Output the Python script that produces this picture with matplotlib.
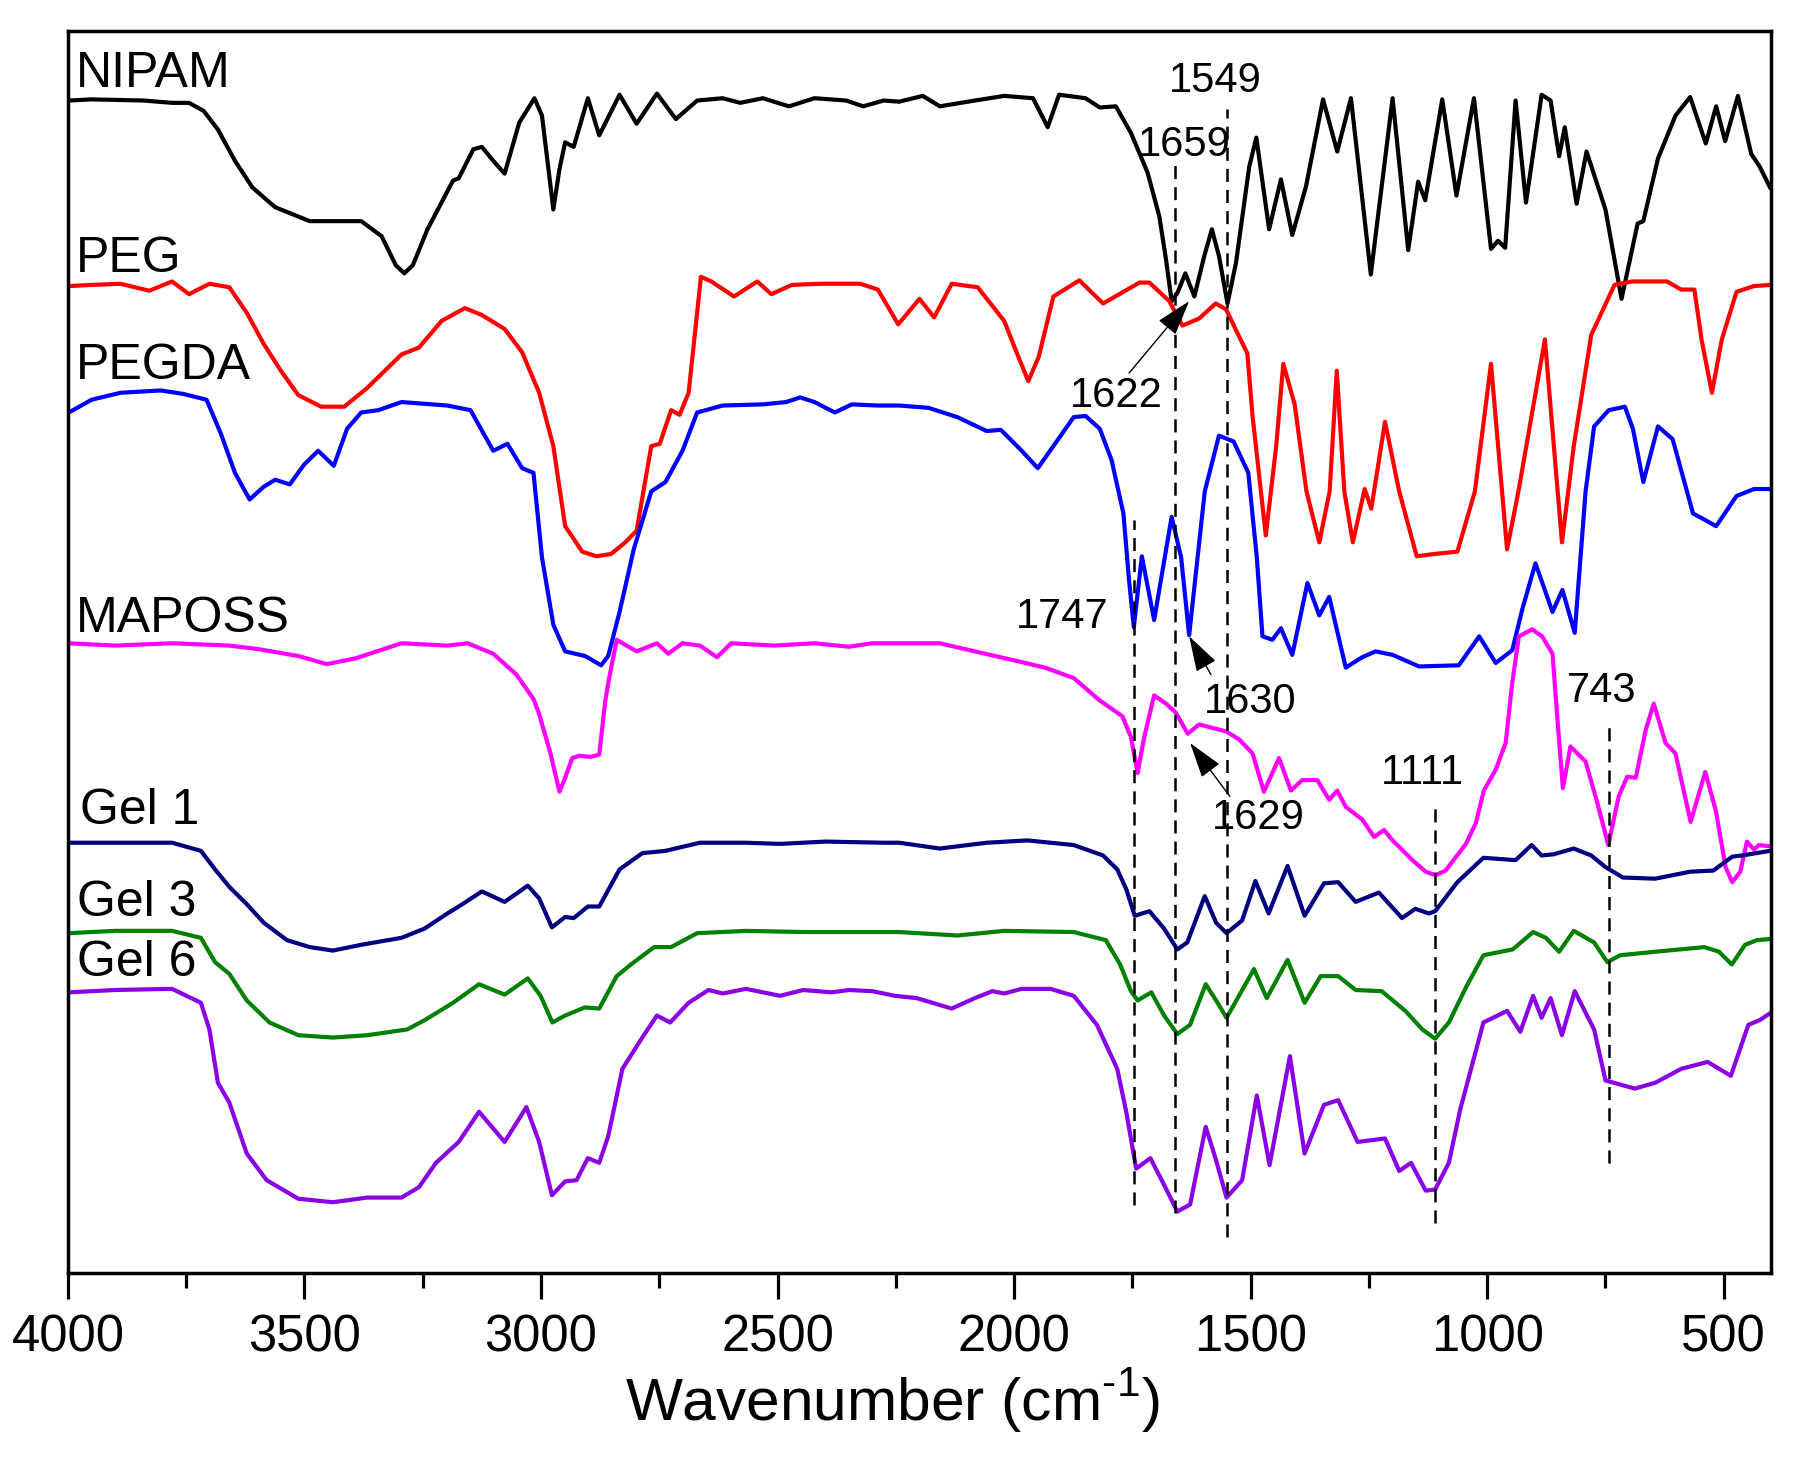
import numpy as np
import matplotlib
matplotlib.use("Agg")
import matplotlib.pyplot as plt
from matplotlib.ticker import MultipleLocator

plt.rcParams["font.family"] = ["Liberation Sans", "DejaVu Sans"]
plt.rcParams["mathtext.fontset"] = "custom"
plt.rcParams["mathtext.rm"] = "Liberation Sans"

# FTIR spectra, (wavenumber cm-1, offset transmittance a.u.)

nipam = [(3998, 1011), (3950, 1012), (3840, 1011), (3780, 1009), (3744, 1009), (3713, 1002),
         (3683, 986), (3647, 959), (3610, 936), (3562, 919), (3489, 907), (3380, 907),
         (3337, 894), (3307, 869), (3289, 862), (3271, 869), (3240, 900), (3186, 942),
         (3174, 944), (3143, 969), (3125, 971), (3101, 959), (3077, 948), (3046, 992),
         (3014, 1013), (2998, 998), (2974, 917), (2961, 952), (2949, 975), (2931, 971),
         (2901, 1013), (2877, 981), (2834, 1016), (2798, 991), (2755, 1017), (2715, 995),
         (2670, 1011), (2616, 1013), (2579, 1009), (2531, 1013), (2476, 1006), (2422, 1013),
         (2355, 1011), (2319, 1006), (2276, 1011), (2243, 1010), (2193, 1015), (2157, 1006),
         (2083, 1011), (2021, 1015), (1960, 1013), (1929, 988), (1905, 1016), (1849, 1013),
         (1819, 1005), (1785, 1006), (1753, 983), (1718, 949), (1693, 911), (1679, 874),
         (1667, 838), (1655, 845), (1638, 862), (1619, 842), (1598, 877), (1582, 900),
         (1567, 877), (1549, 836), (1531, 871), (1503, 954), (1488, 979), (1461, 900),
         (1436, 943), (1412, 895), (1383, 937), (1347, 1012), (1317, 967), (1288, 1013),
         (1246, 861), (1200, 1013), (1167, 882), (1146, 941), (1131, 925), (1095, 1012),
         (1065, 929), (1028, 1013), (992, 883), (977, 890), (962, 884), (940, 1011),
         (918, 923), (885, 1016), (866, 1011), (848, 963), (836, 988), (811, 922),
         (790, 967), (750, 917), (716, 840), (682, 905), (670, 907), (639, 961),
         (602, 998), (571, 1014), (538, 974), (516, 1006), (497, 976), (470, 1015),
         (442, 965), (424, 954), (402, 936)]

peg = [(3998, 851), (3950, 852), (3889, 853), (3828, 847), (3780, 855), (3744, 844),
       (3701, 853), (3659, 850), (3622, 828), (3586, 801), (3550, 778), (3513, 757),
       (3465, 747), (3416, 747), (3368, 763), (3295, 792), (3258, 798), (3210, 821),
       (3161, 832), (3125, 826), (3077, 814), (3040, 794), (3004, 759), (2974, 713),
       (2949, 644), (2913, 622), (2883, 618), (2852, 620), (2822, 630), (2798, 640),
       (2767, 713), (2749, 715), (2725, 744), (2707, 740), (2688, 759), (2662, 859),
       (2640, 855), (2592, 842), (2543, 855), (2513, 844), (2470, 852), (2410, 853),
       (2325, 853), (2288, 848), (2245, 818), (2200, 840), (2169, 824), (2132, 853),
       (2077, 850), (2021, 821), (1991, 790), (1970, 769), (1948, 790), (1917, 842),
       (1862, 856), (1812, 836), (1735, 854), (1714, 854), (1672, 838), (1655, 825),
       (1644, 817), (1609, 823), (1574, 836), (1552, 831), (1531, 813), (1507, 793),
       (1496, 739), (1468, 636), (1446, 713), (1431, 784), (1407, 749), (1382, 674),
       (1355, 630), (1333, 674), (1318, 778), (1302, 674), (1284, 630), (1259, 676),
       (1245, 659), (1216, 734), (1186, 674), (1149, 618), (1112, 620), (1063, 622),
       (1026, 674), (992, 784), (958, 624), (934, 674), (878, 805), (842, 630),
       (817, 713), (780, 809), (731, 852), (694, 855), (620, 855), (590, 848),
       (562, 848), (547, 805), (525, 759), (504, 805), (473, 846), (436, 851), (402, 852)]

pegda = [(3998, 742), (3950, 753), (3889, 759), (3804, 761), (3756, 758), (3707, 753),
         (3677, 724), (3647, 690), (3616, 667), (3586, 678), (3562, 684), (3531, 680),
         (3501, 697), (3471, 709), (3438, 696), (3410, 728), (3380, 742), (3344, 744),
         (3295, 751), (3198, 748), (3149, 744), (3119, 722), (3101, 709), (3071, 715),
         (3040, 694), (3016, 690), (2998, 617), (2974, 559), (2949, 536), (2907, 532),
         (2873, 524), (2858, 532), (2834, 570), (2804, 624), (2767, 674), (2737, 682),
         (2701, 709), (2670, 742), (2616, 748), (2531, 749), (2482, 751), (2452, 755),
         (2422, 751), (2379, 742), (2343, 749), (2288, 748), (2243, 748), (2181, 746),
         (2120, 738), (2058, 726), (2028, 727), (1984, 709), (1950, 694), (1917, 713),
         (1874, 738), (1849, 739), (1819, 728), (1794, 701), (1769, 655), (1757, 597),
         (1747, 557), (1730, 618), (1704, 563), (1667, 652), (1647, 617), (1630, 550),
         (1597, 674), (1567, 722), (1536, 717), (1505, 690), (1487, 617), (1475, 549),
         (1454, 546), (1436, 556), (1412, 533), (1380, 595), (1355, 567), (1334, 583),
         (1299, 522), (1264, 531), (1236, 536), (1200, 533), (1144, 523), (1060, 524),
         (1017, 549), (982, 526), (947, 537), (926, 572), (898, 612), (862, 570),
         (841, 589), (815, 552), (792, 674), (774, 730), (743, 744), (709, 747),
         (692, 728), (670, 682), (639, 730), (608, 719), (565, 655), (516, 644),
         (473, 670), (436, 676), (402, 676)]

maposs = [(3998, 543), (3901, 541), (3780, 543), (3659, 541), (3598, 538), (3513, 532),
          (3453, 525), (3392, 530), (3295, 543), (3198, 541), (3155, 543), (3101, 534),
          (3052, 516), (3016, 495), (3004, 482), (2980, 448), (2961, 415), (2949, 427),
          (2934, 444), (2919, 446), (2895, 445), (2877, 447), (2864, 494), (2856, 513),
          (2840, 546), (2798, 536), (2755, 543), (2731, 534), (2701, 543), (2664, 541),
          (2628, 531), (2598, 543), (2507, 541), (2422, 543), (2349, 540), (2300, 543),
          (2243, 543), (2157, 543), (2083, 536), (1997, 528), (1935, 522), (1874, 513),
          (1820, 494), (1771, 480), (1753, 462), (1739, 431), (1725, 462), (1704, 498),
          (1679, 491), (1658, 483), (1633, 465), (1609, 473), (1552, 467), (1524, 460),
          (1496, 448), (1472, 415), (1440, 444), (1415, 416), (1391, 425), (1359, 425),
          (1334, 408), (1317, 416), (1299, 402), (1264, 391), (1239, 376), (1218, 382),
          (1200, 373), (1158, 356), (1130, 346), (1109, 343), (1088, 347), (1045, 370),
          (1024, 388), (1007, 416), (982, 434), (961, 457), (947, 509), (933, 549),
          (905, 555), (884, 549), (862, 534), (852, 480), (840, 418), (824, 454),
          (792, 441), (767, 405), (744, 369), (722, 411), (704, 428), (686, 427),
          (665, 468), (648, 491), (623, 457), (602, 448), (570, 389), (539, 432),
          (517, 399), (496, 350), (482, 337), (465, 346), (451, 372), (436, 365),
          (426, 369), (405, 368)]

gel1 = [(3998, 371), (3901, 371), (3780, 371), (3719, 364), (3689, 348), (3659, 333),
        (3622, 318), (3586, 302), (3537, 287), (3489, 281), (3440, 278), (3380, 283),
        (3295, 289), (3246, 297), (3198, 310), (3174, 316), (3125, 329), (3077, 320),
        (3028, 334), (3004, 323), (2977, 298), (2949, 307), (2931, 306), (2901, 316),
        (2877, 316), (2834, 348), (2786, 362), (2737, 364), (2664, 371), (2567, 371),
        (2495, 370), (2398, 372), (2276, 371), (2243, 371), (2157, 366), (2058, 371),
        (1972, 373), (1874, 369), (1812, 360), (1782, 348), (1763, 331), (1745, 308),
        (1714, 312), (1683, 297), (1655, 279), (1634, 285), (1597, 325), (1573, 302),
        (1551, 293), (1518, 304), (1490, 338), (1462, 310), (1422, 351), (1386, 308),
        (1345, 336), (1315, 337), (1278, 320), (1229, 328), (1180, 306), (1152, 314),
        (1123, 310), (1110, 312), (1063, 337), (1008, 358), (940, 356), (906, 369),
        (885, 360), (860, 361), (817, 366), (780, 360), (750, 350), (713, 341),
        (645, 340), (571, 346), (522, 347), (482, 359), (461, 360), (402, 364)]

gel3 = [(3998, 293), (3901, 295), (3780, 295), (3719, 289), (3689, 268), (3659, 258),
        (3622, 235), (3574, 216), (3513, 205), (3440, 203), (3368, 205), (3283, 210),
        (3246, 218), (3186, 233), (3131, 249), (3077, 240), (3028, 254), (3001, 239),
        (2976, 216), (2949, 222), (2907, 229), (2877, 228), (2840, 256), (2810, 266),
        (2761, 281), (2725, 281), (2670, 293), (2567, 295), (2446, 294), (2276, 294),
        (2243, 294), (2120, 291), (2021, 295), (1874, 294), (1806, 287), (1776, 266),
        (1753, 243), (1739, 235), (1710, 242), (1683, 222), (1655, 206), (1628, 214),
        (1595, 249), (1573, 235), (1551, 220), (1493, 262), (1466, 237), (1422, 270),
        (1386, 233), (1352, 256), (1315, 256), (1278, 244), (1223, 243), (1173, 226),
        (1137, 210), (1110, 202), (1081, 216), (1044, 247), (1008, 274), (946, 279),
        (903, 294), (876, 289), (848, 277), (817, 295), (774, 285), (746, 268),
        (719, 274), (645, 277), (541, 281), (510, 277), (483, 266), (455, 283),
        (430, 287), (402, 288)]

gel6 = [(3998, 242), (3901, 244), (3780, 245), (3719, 233), (3701, 210), (3683, 164),
        (3659, 147), (3622, 103), (3580, 80), (3513, 64), (3440, 61), (3368, 65),
        (3295, 65), (3258, 74), (3222, 95), (3174, 113), (3131, 139), (3077, 113),
        (3031, 143), (3004, 113), (2977, 67), (2949, 79), (2925, 80), (2901, 99),
        (2877, 95), (2858, 118), (2828, 176), (2786, 203), (2755, 222), (2727, 216),
        (2688, 233), (2646, 244), (2616, 241), (2567, 245), (2495, 239), (2446, 244),
        (2386, 242), (2349, 244), (2300, 243), (2252, 239), (2206, 237), (2132, 228),
        (2083, 237), (2046, 243), (2021, 241), (1984, 245), (1923, 245), (1874, 239),
        (1825, 214), (1782, 176), (1763, 139), (1742, 90), (1712, 99), (1683, 76),
        (1655, 53), (1628, 59), (1595, 126), (1573, 97), (1551, 65), (1518, 80),
        (1487, 153), (1460, 93), (1417, 187), (1386, 103), (1345, 145), (1315, 149),
        (1274, 113), (1216, 116), (1186, 88), (1161, 95), (1130, 71), (1110, 72),
        (1081, 95), (1057, 141), (1008, 216), (958, 226), (930, 208), (903, 239),
        (885, 220), (866, 237), (842, 205), (815, 243), (774, 210), (750, 166),
        (688, 159), (645, 164), (590, 176), (534, 182), (485, 170), (448, 214),
        (424, 218), (402, 224)]

names = ["NIPAM", "PEG", "PEGDA", "MAPOSS", "Gel 1", "Gel 3", "Gel 6"]
spectra = [nipam, peg, pegda, maposs, gel1, gel3, gel6]
colors = ["black", "#FF0000", "#0000FF", "#FF00FF", "#000080", "#008000", "#8A00E6"]

# name label anchors (left, baseline)
name_pos = [(3983, 1023), (3983, 863), (3983, 771), (3983, 553),
            (3974, 387), (3980, 308), (3980, 256)]

# marked bands: wavenumber, line bottom, line top
bands = [1747, 1659, 1549, 1111, 743]
band_lo = [59, 52, 31, 43, 95]
band_hi = [649, 955, 1004, 404, 476]

band_text = ["1747", "1659", "1549", "1111", "743"]
band_text_pos = [(1997, 556), (1739, 963), (1672, 1018), (1225, 422), (831, 492)]

# arrows: text, text pos, arrow tail, arrow tip
arrows = [("1622", (1882, 747), (1757, 776), (1630, 838)),
          ("1630", (1598, 483), (1584, 516), (1630, 549)),
          ("1629", (1581, 383), (1544, 411), (1628, 457))]


fig = plt.figure(figsize=(18.12, 14.6), dpi=100)
ax = fig.add_axes([0.0375, 0.1281, 0.9399, 0.8507])

for data, c in zip(spectra, colors):
    d = np.array(data, dtype=float)
    ax.plot(d[:, 0], d[:, 1], color=c, lw=3.0, solid_joinstyle="round")

for name, (x, y) in zip(names, name_pos):
    ax.text(x, y, name, fontsize=36, ha="left", va="baseline")

lw_d = 1.8
for b, lo, hi in zip(bands, band_lo, band_hi):
    ax.plot([b, b], [lo, hi], color="black", lw=lw_d,
            linestyle=(0, (9.4 / lw_d, 5.8 / lw_d)))

for t, (x, y) in zip(band_text, band_text_pos):
    ax.text(x, y, t, fontsize=30, ha="left", va="baseline")

for t, tp, tail, tip in arrows:
    ax.text(tp[0], tp[1], t, fontsize=30, ha="left", va="baseline")
    ax.annotate("", xy=tip, xytext=tail,
                arrowprops=dict(arrowstyle="-|>,head_length=0.8,head_width=0.25",
                                color="black", lw=1.0, mutation_scale=28,
                                shrinkA=0, shrinkB=0))

ax.set_xlim(4000, 400)
ax.set_ylim(0, 1071)
ax.set_yticks([])
ax.xaxis.set_major_locator(MultipleLocator(500))
ax.xaxis.set_minor_locator(MultipleLocator(250))
ax.tick_params(axis="x", which="major", length=19, width=2.3, direction="out",
               labelsize=36.5, pad=10)
ax.tick_params(axis="x", which="minor", length=10.5, width=2.3, direction="out")
for s in ax.spines.values():
    s.set_linewidth(2.5)

ax.set_xlabel("Wavenumber (cm$^{\\mathregular{\u2010}1}$)", fontsize=43.5, labelpad=6)
ax.xaxis.set_label_coords(0.484, -0.075)

fig.savefig("out.png", dpi=100)
